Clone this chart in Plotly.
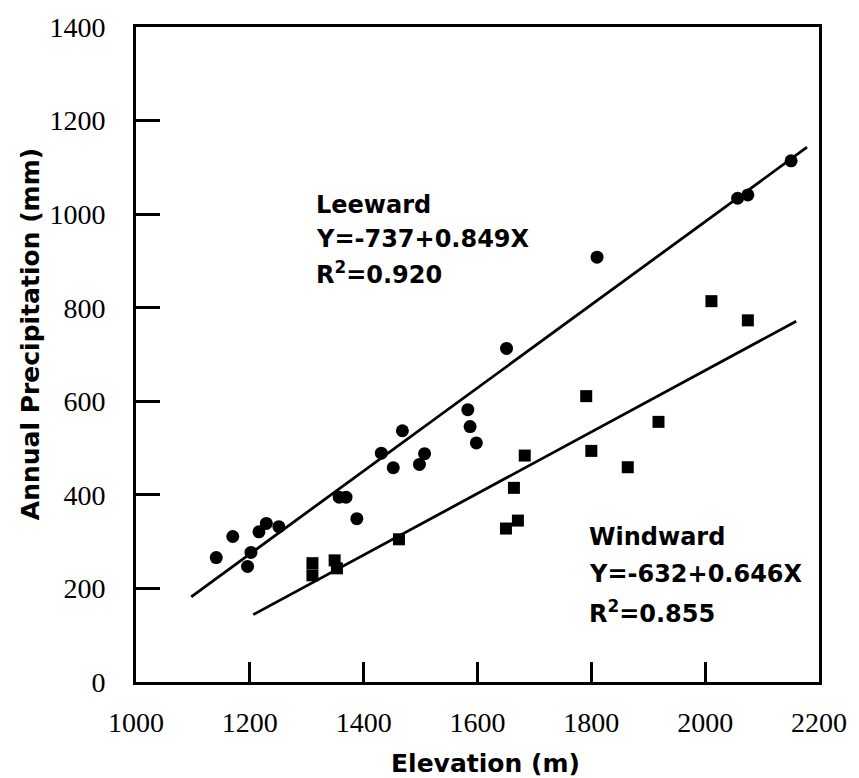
import plotly.graph_objects as go

# Leeward stations (circles)
leeward_elev = [1141, 1170, 1196, 1202, 1216, 1229, 1251, 1357, 1369, 1388,
                1431, 1452, 1468, 1498, 1507, 1583, 1587, 1598, 1651, 1810,
                2057, 2075, 2151]
leeward_precip = [266, 311, 247, 277, 321, 339, 332, 395, 395, 349,
                  489, 458, 537, 465, 488, 582, 546, 511, 713, 908,
                  1034, 1041, 1114]

# Windward stations (squares)
windward_elev = [1310, 1310, 1349, 1353, 1462, 1650, 1664, 1671, 1683, 1791,
                 1800, 1864, 1918, 2011, 2075]
windward_precip = [254, 228, 260, 243, 305, 328, 415, 345, 484, 611,
                   494, 459, 556, 814, 773]

# Regression line end points as drawn
leeward_fit_x = [1097, 2179]
leeward_fit_y = [182, 1143]
windward_fit_x = [1206, 2160]
windward_fit_y = [144, 771]

x_ticks = [1000, 1200, 1400, 1600, 1800, 2000, 2200]
y_ticks = [0, 200, 400, 600, 800, 1000, 1200, 1400]

leeward_text = ["Leeward", "Y=-737+0.849X", "R<sup>2</sup>=0.920"]
windward_text = ["Windward", "Y=-632+0.646X", "R<sup>2</sup>=0.855"]

fig = go.Figure()
fig.add_trace(go.Scatter(x=leeward_fit_x, y=leeward_fit_y, mode="lines",
                         line=dict(color="black", width=2.8), showlegend=False))
fig.add_trace(go.Scatter(x=windward_fit_x, y=windward_fit_y, mode="lines",
                         line=dict(color="black", width=2.8), showlegend=False))
fig.add_trace(go.Scatter(x=leeward_elev, y=leeward_precip, mode="markers",
                         marker=dict(symbol="circle", size=13, color="black"),
                         showlegend=False))
fig.add_trace(go.Scatter(x=windward_elev, y=windward_precip, mode="markers",
                         marker=dict(symbol="square", size=12, color="black"),
                         showlegend=False))

ann_font = dict(family="DejaVu Sans", size=24, color="black", weight="bold")
lee_y = [1019, 946, 874]
win_y = [309, 230, 149]
annotations = []
for t, yy in zip(leeward_text, lee_y):
    annotations.append(dict(x=1312, y=yy, xref="x", yref="y", text=t, showarrow=False,
                            xanchor="left", yanchor="middle", font=ann_font))
for t, yy in zip(windward_text, win_y):
    annotations.append(dict(x=1792, y=yy, xref="x", yref="y", text=t, showarrow=False,
                            xanchor="left", yanchor="middle", font=ann_font))

title_font = dict(family="DejaVu Sans", size=25, color="black", weight="bold")
annotations.append(dict(x=0.511, y=0, xref="paper", yref="paper", text="Elevation (m)",
                        showarrow=False, xanchor="center", yanchor="middle", yshift=-81,
                        font=title_font))
annotations.append(dict(x=0, y=0.531, xref="paper", yref="paper",
                        text="Annual Precipitation (mm)", textangle=-90,
                        showarrow=False, xanchor="center", yanchor="middle", xshift=-106,
                        font=title_font))

tick_font = dict(family="Liberation Serif", size=28, color="black")

fig.update_layout(
    width=859, height=778,
    margin=dict(l=136, r=31, t=25, b=96),
    paper_bgcolor="white", plot_bgcolor="white",
    annotations=annotations,
    xaxis=dict(range=[1000, 2200], tickvals=x_ticks, ticktext=[str(v) for v in x_ticks],
               ticks="inside", ticklen=20, tickwidth=2.5, tickcolor="black",
               showline=True, linewidth=2.6, linecolor="black", mirror=True,
               showgrid=False, zeroline=False, tickfont=tick_font,
               ticklabelstandoff=14),
    yaxis=dict(range=[0, 1400], tickvals=y_ticks, ticktext=[str(v) for v in y_ticks],
               ticks="inside", ticklen=24, tickwidth=2.5, tickcolor="black",
               showline=True, linewidth=2.6, linecolor="black", mirror=True,
               showgrid=False, zeroline=False, tickfont=tick_font,
               ticklabelstandoff=22),
)

fig.write_html("out.html")
